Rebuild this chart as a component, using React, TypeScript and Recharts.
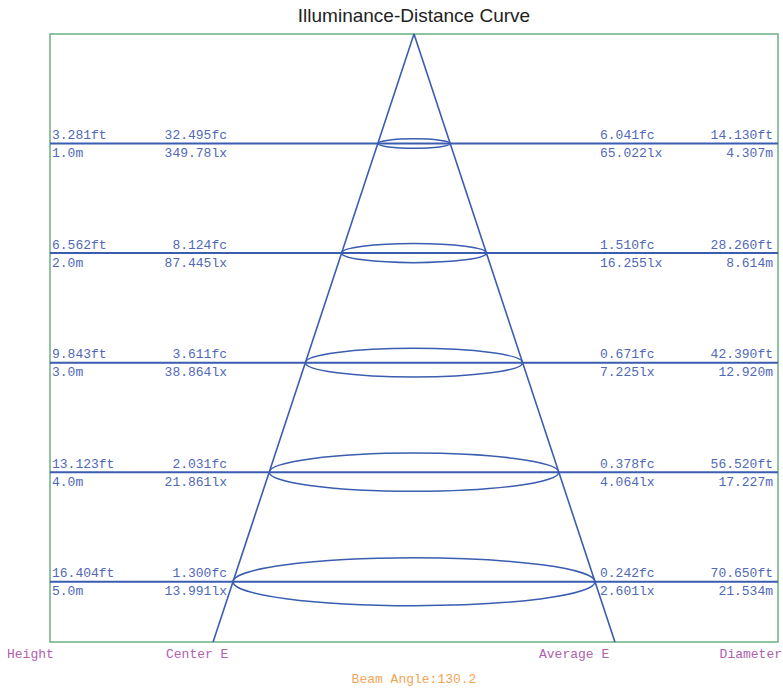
import { ComposedChart, XAxis, YAxis, ReferenceLine, ReferenceArea, Customized, Scatter } from 'recharts'

const heights = [1, 2, 3, 4, 5]
const heightM = ['1.0m', '2.0m', '3.0m', '4.0m', '5.0m']
const heightFt = ['3.281ft', '6.562ft', '9.843ft', '13.123ft', '16.404ft']
const centerFc = ['32.495fc', '8.124fc', '3.611fc', '2.031fc', '1.300fc']
const centerLx = ['349.78lx', '87.445lx', '38.864lx', '21.861lx', '13.991lx']
const avgFc = ['6.041fc', '1.510fc', '0.671fc', '0.378fc', '0.242fc']
const avgLx = ['65.022lx', '16.255lx', '7.225lx', '4.064lx', '2.601lx']
const diamFt = ['14.130ft', '28.260ft', '42.390ft', '56.520ft', '70.650ft']
const diamM = [4.307, 8.614, 12.92, 17.227, 21.534]
const beamAngle = 130.2

const X_MAX = 21.65
const Y_MAX = 5.55

const LINE = '#3a5db0'
const TEXT = '#5068b8'
const FONT = '"Liberation Mono", monospace'

const rows = heights.map((h, i) => ({ h, r: diamM[i] / 2 }))
// half-width per metre of height, taken from the last row
const spread = diamM[diamM.length - 1] / 2 / heights[heights.length - 1]

function Ellipse(props: any) {
    const { x, y, width, height } = props
    const cx = x + width / 2
    const cy = y + height / 2
    return (
        <ellipse cx={cx} cy={cy} rx={width / 2} ry={width * 0.066}
            fill="none" stroke={LINE} strokeWidth={1.5} />
    )
}

function rowLabel(i: number) {
    return (props: any) => {
        const vb = props.viewBox || {}
        const x = vb.x
        const y = vb.y
        const w = vb.width
        const t = { fontFamily: FONT, fontSize: 13, fill: TEXT }
        return (
            <g>
                <text x={x + 2} y={y - 4.5} {...t}>{heightFt[i]}</text>
                <text x={x + 2} y={y + 13.5} {...t}>{heightM[i]}</text>
                <text x={x + 177} y={y - 4.5} textAnchor="end" {...t}>{centerFc[i]}</text>
                <text x={x + 177} y={y + 13.5} textAnchor="end" {...t}>{centerLx[i]}</text>
                <text x={x + 550} y={y - 4.5} {...t}>{avgFc[i]}</text>
                <text x={x + 550} y={y + 13.5} {...t}>{avgLx[i]}</text>
                <text x={x + w - 5} y={y - 4.5} textAnchor="end" {...t}>{diamFt[i]}</text>
                <text x={x + w - 5} y={y + 13.5} textAnchor="end" {...t}>{diamM[i].toFixed(3) + 'm'}</text>
            </g>
        )
    }
}

function Overlay() {
    const foot = { fontFamily: FONT, fontSize: 13, fill: '#b060b0' }
    return (
        <g>
            <text x={414} y={22} textAnchor="middle" fontFamily='"Liberation Sans", Arial, sans-serif'
                fontSize={19} fill="#222">Illuminance-Distance Curve</text>
            <text x={7} y={658} {...foot}>Height</text>
            <text x={166} y={658} {...foot}>Center E</text>
            <text x={539} y={658} {...foot}>Average E</text>
            <text x={782} y={658} textAnchor="end" {...foot}>Diameter</text>
            <text x={414} y={683} textAnchor="middle" fontFamily={FONT} fontSize={13} fill="#f3a556">
                {'Beam Angle:' + beamAngle}
            </text>
        </g>
    )
}

export default function App() {
    return (
        <div style={{ width: 783, height: 692, background: '#fff' }}>
            <style>{'body{margin:0}'}</style>
            <ComposedChart width={783} height={692} data={rows}
                margin={{ top: 34, right: 5, bottom: 50, left: 50 }}>
                <XAxis type="number" dataKey="r" domain={[-X_MAX, X_MAX]} hide allowDataOverflow />
                <YAxis type="number" dataKey="h" domain={[0, Y_MAX]} reversed hide allowDataOverflow />
                <Scatter data={rows} dataKey="h" fill="none" shape={() => <g />} isAnimationActive={false} />
                <ReferenceArea x1={-X_MAX} x2={X_MAX} y1={0} y2={Y_MAX}
                    fill="none" fillOpacity={0} stroke="#6dae84" strokeWidth={1.5} />
                {rows.map((d, i) => (
                    <ReferenceLine key={'h' + i} y={d.h} stroke={LINE} strokeWidth={2}
                        label={rowLabel(i)} />
                ))}
                <ReferenceLine segment={[{ x: 0, y: 0 }, { x: -spread * Y_MAX, y: Y_MAX }]}
                    stroke={LINE} strokeWidth={1.6} />
                <ReferenceLine segment={[{ x: 0, y: 0 }, { x: spread * Y_MAX, y: Y_MAX }]}
                    stroke={LINE} strokeWidth={1.6} />
                {rows.map((d, i) => (
                    <ReferenceArea key={'e' + i} x1={-d.r} x2={d.r} y1={d.h - 0.005} y2={d.h + 0.005}
                        shape={Ellipse} />
                ))}
                <Customized component={Overlay} />
            </ComposedChart>
        </div>
    )
}
